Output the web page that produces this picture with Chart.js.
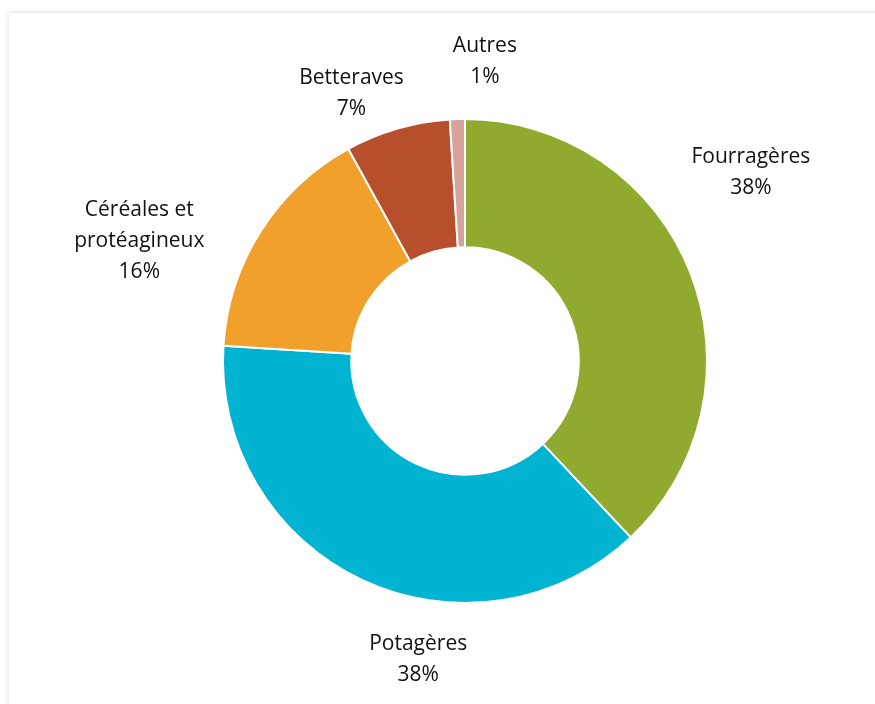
<!DOCTYPE html>
<html lang="fr">
<head>
<meta charset="utf-8">
<script src="https://cdn.jsdelivr.net/npm/chart.js@4.4.1/dist/chart.umd.min.js"></script>
<style>
  html, body { margin: 0; padding: 0; background: #fff; overflow: hidden; }
  .card {
    position: absolute; left: 9px; top: 13px; width: 900px; height: 720px;
    background: #fff; box-shadow: 0 0 7px rgba(0, 0, 0, 0.14);
  }
  #wrap { position: absolute; left: 0; top: 0; width: 875px; height: 704px; }
</style>
</head>
<body>
<div class="card"></div>
<div id="wrap"><canvas id="surfChart"></canvas></div>
<script>
// Répartition des surfaces par type de culture
const categories = ['Fourragères', 'Potagères', 'Céréales et\nprotéagineux', 'Betteraves', 'Autres'];
const shares = [38, 38, 16, 7, 1];
const sliceColors = ['#90a92f', '#00b3d1', '#f0a02b', '#b84f2c', '#d6a29b'];

// where each label sits, as angle (deg from top, clockwise) and distance in outer radii
const labelPlacement = [
  { angle: 56.6, dist: 1.415 },
  { angle: 188.9, dist: 1.25 },
  { angle: 290.3, dist: 1.435 },
  { angle: 337.0, dist: 1.20 },
  { angle: 3.8, dist: 1.24 }
];

const outsideLabels = {
  id: 'outsideLabels',
  afterDatasetsDraw(chart) {
    const ctx = chart.ctx;
    const arcs = chart.getDatasetMeta(0).data;
    ctx.save();
    ctx.fillStyle = '#111111';
    ctx.font = '21px "Open Sans", sans-serif';
    ctx.textAlign = 'center';
    ctx.textBaseline = 'middle';
    const lineH = 31;
    arcs.forEach((arc, i) => {
      const p = labelPlacement[i];
      const a = p.angle * Math.PI / 180;
      const r = arc.outerRadius * p.dist;
      const cx = arc.x + Math.sin(a) * r;
      const cy = arc.y - Math.cos(a) * r;
      const lines = categories[i].split('\n').concat([shares[i] + '%']);
      const top = cy - (lines.length - 1) * lineH / 2;
      lines.forEach((t, k) => ctx.fillText(t, cx, top + k * lineH));
    });
    ctx.restore();
  }
};

new Chart(document.getElementById('surfChart'), {
  type: 'doughnut',
  data: {
    labels: categories,
    datasets: [{
      data: shares,
      backgroundColor: sliceColors,
      borderColor: '#ffffff',
      borderWidth: 2
    }]
  },
  options: {
    responsive: true,
    maintainAspectRatio: false,
    animation: false,
    cutout: '47%',
    layout: { padding: { left: 222, right: 167, top: 118, bottom: 100 } },
    plugins: {
      legend: { display: false },
      tooltip: { enabled: false }
    }
  },
  plugins: [outsideLabels]
});
</script>
</body>
</html>
